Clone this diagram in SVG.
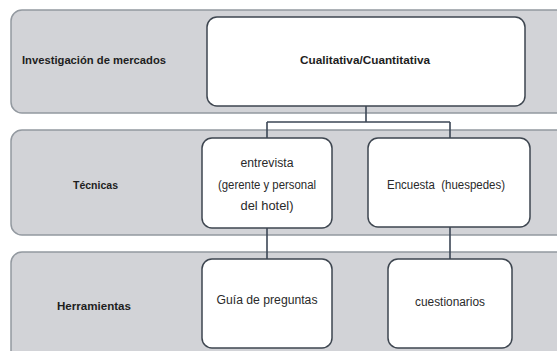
<svg xmlns="http://www.w3.org/2000/svg" width="557" height="351" viewBox="0 0 557 351">
<style>
.band{fill:#d2d3d7;stroke:#9399a0;stroke-width:1.5}
.box{fill:#ffffff;stroke:#3e4650;stroke-width:1.5}
.lbl{font-family:"Liberation Sans",Arial,sans-serif;font-size:11.5px;font-weight:bold;fill:#1e1e1e}
.txt{font-family:"Liberation Sans",Arial,sans-serif;font-size:12.5px;fill:#2a2a2a;text-anchor:middle;white-space:pre}
.conn{fill:none;stroke:#3c4756;stroke-width:1.6}
</style>
<rect width="557" height="351" fill="#ffffff"/>
<g id="band1"><rect class="band" x="11" y="10" width="570" height="103" rx="11"/><text class="lbl" x="22" y="64" textLength="144" lengthAdjust="spacingAndGlyphs">Investigación de mercados</text></g>
<g id="band2"><rect class="band" x="11" y="130" width="570" height="105" rx="11"/><text class="lbl" x="73" y="189" textLength="45" lengthAdjust="spacingAndGlyphs">Técnicas</text></g>
<g id="band3"><rect class="band" x="11" y="252" width="570" height="110" rx="11"/><text class="lbl" x="57" y="310" textLength="74" lengthAdjust="spacingAndGlyphs">Herramientas</text></g>
<g id="connectors">
<path class="conn" d="M366 106 V122 M267 122 H450 M267 122 V138 M450 122 V138 M267 228 V259 M450 227 V259"/>
</g>
<g id="n-cual"><rect class="box" x="207" y="17" width="318" height="89" rx="10"/><text class="lbl" x="300" y="64" textLength="130" lengthAdjust="spacingAndGlyphs">Cualitativa/Cuantitativa</text></g>
<g id="n-entrevista"><rect class="box" x="202" y="138" width="130" height="90" rx="10"/>
<text class="txt" x="267" y="167" textLength="53" lengthAdjust="spacingAndGlyphs">entrevista</text>
<text class="txt" x="267" y="189" textLength="98" lengthAdjust="spacingAndGlyphs">(gerente y personal</text>
<text class="txt" x="267" y="210" textLength="53" lengthAdjust="spacingAndGlyphs">del hotel)</text></g>
<g id="n-encuesta"><rect class="box" x="368" y="138" width="162" height="89" rx="10"/><text class="txt" x="446" y="189" textLength="118" lengthAdjust="spacingAndGlyphs">Encuesta  (huespedes)</text></g>
<g id="n-guia"><rect class="box" x="202" y="259" width="130" height="89" rx="10"/><text class="txt" x="267" y="304" textLength="101" lengthAdjust="spacingAndGlyphs">Guía de preguntas</text></g>
<g id="n-cuest"><rect class="box" x="388" y="259" width="124" height="89" rx="10"/><text class="txt" x="450" y="306" textLength="70" lengthAdjust="spacingAndGlyphs">cuestionarios</text></g>
</svg>
